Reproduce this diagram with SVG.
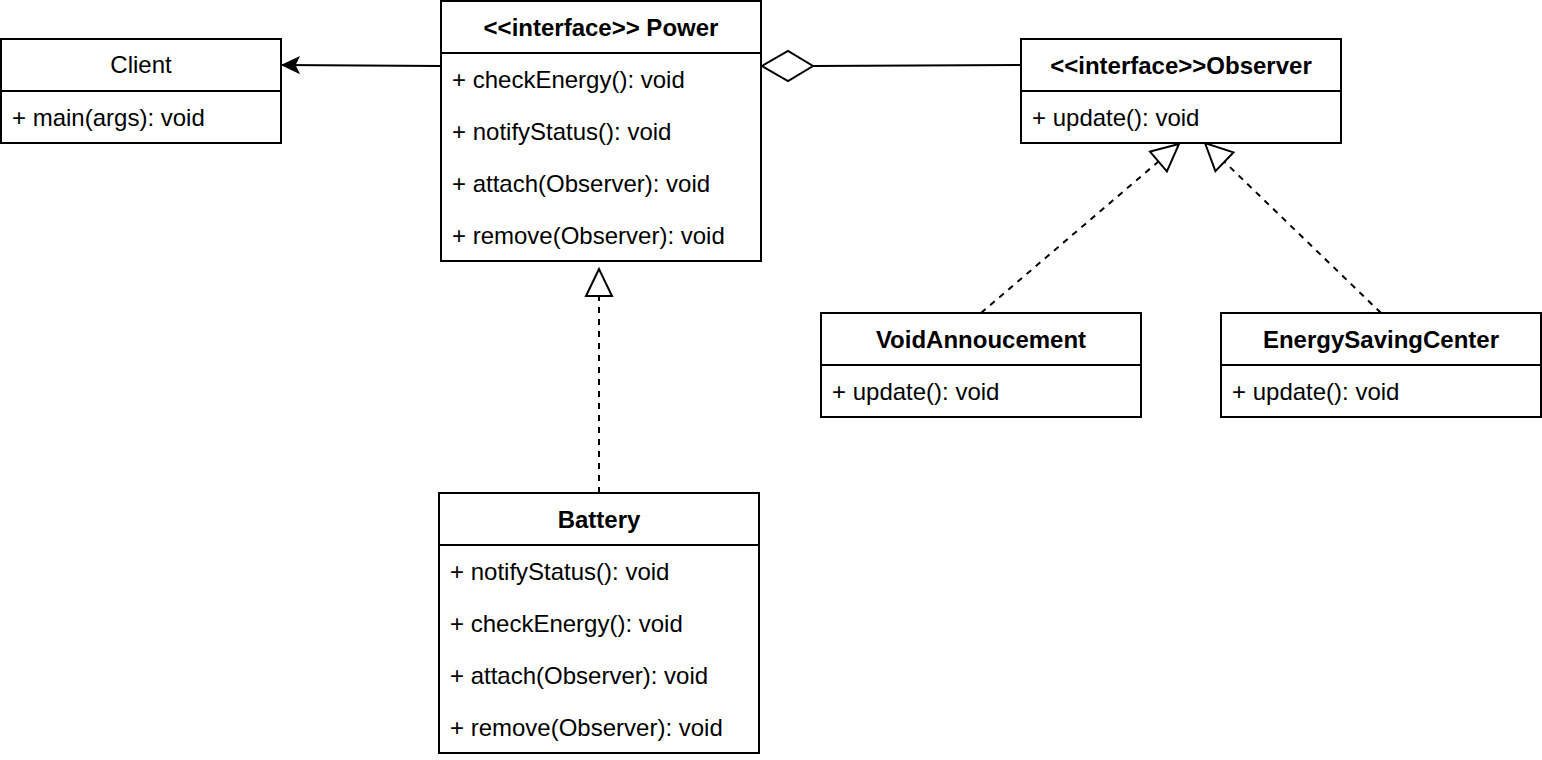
<svg xmlns="http://www.w3.org/2000/svg" width="1542" height="760" viewBox="0 0 1542 760">
<style>
.box{fill:#fff;stroke:#000;stroke-width:2}
.sep{stroke:#000;stroke-width:2}
text{font-family:"Liberation Sans",Arial,Helvetica,sans-serif;font-size:24px;fill:#000}
.t{font-weight:bold;text-anchor:middle}
.c{text-anchor:middle}
.ln{fill:none;stroke:#000;stroke-width:2}
.dash{stroke-dasharray:6 6}
</style>
<defs>
<marker id="classic" markerUnits="userSpaceOnUse" markerWidth="24" markerHeight="24" refX="23" refY="12" orient="auto" viewBox="0 0 24 24">
<path d="M23,12 L6,4 L10,12 L6,20 Z" fill="#000" stroke="#000" stroke-width="1"/>
</marker>
<marker id="tri" markerUnits="userSpaceOnUse" markerWidth="34" markerHeight="34" refX="30" refY="17" orient="auto" viewBox="0 0 34 34">
<path d="M30,17 L3,4 L3,30 Z" fill="#fff" stroke="#000" stroke-width="2" stroke-dasharray="none"/>
</marker>
</defs>
<g id="connectors">
<line class="ln" x1="441" y1="66" x2="282" y2="65" marker-end="url(#classic)"/>
<polygon points="762,66 788,51 813,66 788,81" fill="#fff" stroke="#000" stroke-width="2"/>
<line class="ln" x1="813" y1="66" x2="1021" y2="65"/>
<line class="ln dash" x1="599" y1="493" x2="599" y2="269" marker-end="url(#tri)"/>
<line class="ln dash" x1="981" y1="313" x2="1179" y2="144" marker-end="url(#tri)"/>
<line class="ln dash" x1="1381" y1="313" x2="1205" y2="143" marker-end="url(#tri)"/>
</g>
<g id="client">
<rect class="box" x="1" y="39" width="280" height="104"/>
<line class="sep" x1="1" y1="91" x2="281" y2="91"/>
<text class="c" x="141" y="73">Client</text>
<text x="12" y="126">+ main(args): void</text>
</g>
<g id="power">
<rect class="box" x="441" y="1" width="320" height="260"/>
<line class="sep" x1="441" y1="53" x2="761" y2="53"/>
<text class="t" x="601" y="36">&lt;&lt;interface&gt;&gt; Power</text>
<text x="452" y="88">+ checkEnergy(): void</text>
<text x="452" y="140">+ notifyStatus(): void</text>
<text x="452" y="192">+ attach(Observer): void</text>
<text x="452" y="244">+ remove(Observer): void</text>
</g>
<g id="observer">
<rect class="box" x="1021" y="39" width="320" height="104"/>
<line class="sep" x1="1021" y1="91" x2="1341" y2="91"/>
<text class="t" x="1181" y="74">&lt;&lt;interface&gt;&gt;Observer</text>
<text x="1032" y="126">+ update(): void</text>
</g>
<g id="voidannoucement">
<rect class="box" x="821" y="313" width="320" height="104"/>
<line class="sep" x1="821" y1="365" x2="1141" y2="365"/>
<text class="t" x="981" y="348">VoidAnnoucement</text>
<text x="832" y="400">+ update(): void</text>
</g>
<g id="energysavingcenter">
<rect class="box" x="1221" y="313" width="320" height="104"/>
<line class="sep" x1="1221" y1="365" x2="1541" y2="365"/>
<text class="t" x="1381" y="348">EnergySavingCenter</text>
<text x="1232" y="400">+ update(): void</text>
</g>
<g id="battery">
<rect class="box" x="439" y="493" width="320" height="260"/>
<line class="sep" x1="439" y1="545" x2="759" y2="545"/>
<text class="t" x="599" y="528">Battery</text>
<text x="450" y="580">+ notifyStatus(): void</text>
<text x="450" y="632">+ checkEnergy(): void</text>
<text x="450" y="684">+ attach(Observer): void</text>
<text x="450" y="736">+ remove(Observer): void</text>
</g>
</svg>
